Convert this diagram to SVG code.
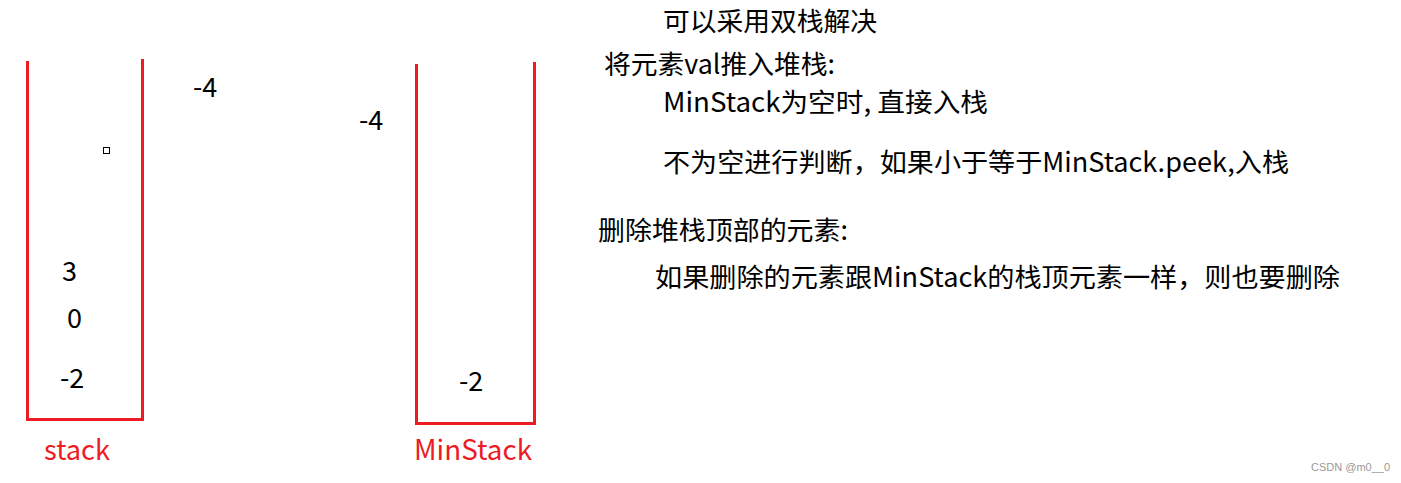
<svg xmlns="http://www.w3.org/2000/svg" width="1401" height="483" viewBox="0 0 1401 483">
<style>
.box{fill:none;stroke:#ED1C24;stroke-width:3}
.t{font-family:"Noto Sans CJK SC","Microsoft YaHei",sans-serif;font-size:27px;fill:#000}
.r{font-family:"Noto Sans CJK SC","Microsoft YaHei",sans-serif;font-size:28px;fill:#ED1C24}
.c{font-family:"Noto Sans CJK SC","Microsoft YaHei",sans-serif;font-size:26.5px;fill:#000}
.w{font-family:"Liberation Sans",sans-serif;font-size:11px;fill:#999}
</style>
<rect width="1401" height="483" fill="#fff"/>
<g id="stack">
<polyline class="box" points="27.5,61 27.5,419.5 142.5,419.5 142.5,59"/>
<text class="t" x="62" y="281">3</text>
<text class="t" x="67" y="328">0</text>
<text class="t" x="60" y="388">-2</text>
<rect x="103.5" y="147.5" width="6" height="6" fill="none" stroke="#000" stroke-width="1"/>
<text class="r" x="44" y="460" textLength="66" lengthAdjust="spacingAndGlyphs">stack</text>
</g>
<g id="minstack">
<polyline class="box" points="416.5,64 416.5,423.5 534.5,423.5 534.5,62"/>
<text class="t" x="459" y="391">-2</text>
<text class="r" x="414" y="460" textLength="118" lengthAdjust="spacingAndGlyphs">MinStack</text>
</g>
<g id="pending">
<text class="t" x="193" y="97">-4</text>
<text class="t" x="359" y="130">-4</text>
</g>
<g id="notes">
<text class="c" x="663" y="31" textLength="214" lengthAdjust="spacingAndGlyphs">可以采用双栈解决</text>
<text class="c" x="604" y="74" textLength="231" lengthAdjust="spacingAndGlyphs">将元素val推入堆栈:</text>
<text class="c" x="663" y="112" textLength="325" lengthAdjust="spacingAndGlyphs">MinStack为空时, 直接入栈</text>
<text class="c" x="663" y="172" textLength="626" lengthAdjust="spacingAndGlyphs">不为空进行判断，如果小于等于MinStack.peek,入栈</text>
<text class="c" x="598" y="240" textLength="250" lengthAdjust="spacingAndGlyphs">删除堆栈顶部的元素:</text>
<text class="c" x="655" y="287" textLength="685" lengthAdjust="spacingAndGlyphs">如果删除的元素跟MinStack的栈顶元素一样，则也要删除</text>
</g>
<text class="w" x="1311" y="471">CSDN @m0__0</text>
</svg>
